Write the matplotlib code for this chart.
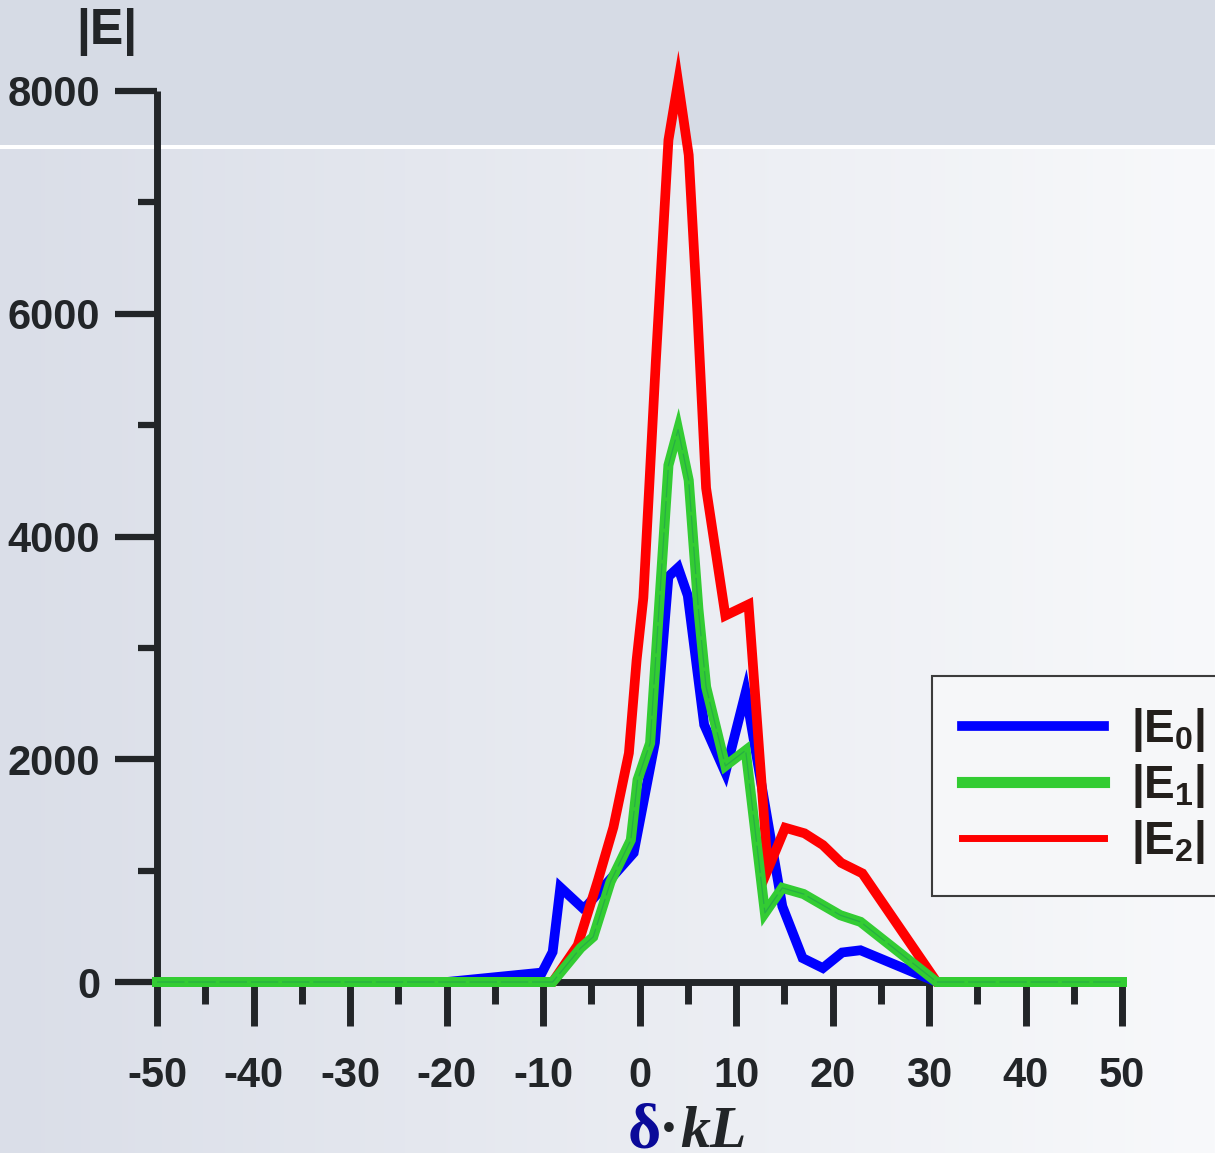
import numpy as np
import matplotlib
matplotlib.use("Agg")
import matplotlib.pyplot as plt

# |E| curves vs detuning delta*kL
x_e0 = [-50, -20, -10.1, -9.0, -8.2, -5.9, -5.4, -0.6, 0.4, 1.6, 3.0, 4.0, 5.0, 6.7, 8.9, 11.0, 14.8, 16.9, 19.0, 21.0, 22.9, 30.8, 50]
e0 = [0, 0, 85, 270, 850, 665, 690, 1160, 1610, 2150, 3640, 3720, 3470, 2310, 1880, 2600, 680, 215, 125, 265, 285, 0, 0]

x_e1 = [-50, -9.0, -6.1, -4.8, -3.0, -0.9, -0.2, 1.1, 3.0, 4.0, 5.1, 6.1, 6.9, 8.9, 11.0, 13.0, 14.8, 17.0, 19.0, 20.8, 22.9, 30.8, 50]
e1 = [0, 0, 305, 405, 900, 1275, 1815, 2145, 4640, 4960, 4505, 3350, 2650, 1940, 2080, 620, 845, 790, 690, 600, 540, 0, 0]

x_e2 = [-50, -9.0, -6.4, -4.3, -2.7, -1.1, -0.3, 0.4, 1.7, 3.0, 4.0, 5.1, 6.0, 6.9, 8.9, 11.3, 13.3, 15.1, 17.1, 19.0, 20.9, 23.1, 30.8, 50]
e2 = [0, 0, 330, 915, 1390, 2055, 2890, 3450, 5585, 7560, 8080, 7425, 6015, 4435, 3290, 3390, 1010, 1385, 1335, 1230, 1070, 975, 0, 0]

labels = [r"|E$_0$|", r"|E$_1$|", r"|E$_2$|"]
x_ticks = list(range(-50, 51, 10))
y_ticks = list(range(0, 8001, 2000))

plt.rcParams["font.family"] = ["Liberation Sans", "DejaVu Sans"]
plt.rcParams["font.weight"] = "bold"
plt.rcParams["mathtext.fontset"] = "custom"
plt.rcParams["mathtext.rm"] = "Liberation Sans:bold"
plt.rcParams["mathtext.it"] = "Liberation Sans:bold"
plt.rcParams["mathtext.bf"] = "Liberation Sans:bold"

W, H = 1215, 1153
fig = plt.figure(figsize=(W / 100, H / 100), dpi=100)

# background: flat band on top, soft left-to-right gradient below
bg = fig.add_axes([0, 0, 1, 1], zorder=-5)
img = np.zeros((H, W, 3))
left = np.array([218, 222, 232]) / 255
right = np.array([248, 249, 251]) / 255
t = np.linspace(0, 1, W)[:, None]
img[:] = (left * (1 - t) + right * t)[None, :, :]
img[:145] = np.array([214, 219, 229]) / 255
img[145:149] = 1.0
bg.imshow(img, aspect="auto", extent=[0, 1, 0, 1], interpolation="bilinear")
bg.axis("off")

ax = fig.add_axes([157 / W, (H - 982) / H, 965 / W, 891 / H])
ax.patch.set_alpha(0)

ax.plot(x_e0, e0, color="#0000ff", lw=7, solid_joinstyle="miter", zorder=3, clip_on=False, label=labels[0])
ax.plot(x_e2, e2, color="#ff0000", lw=7, solid_joinstyle="miter", zorder=4, clip_on=False, label=labels[2])
ax.plot(x_e1, e1, color="#33cc33", lw=7.2, solid_joinstyle="miter", zorder=5, clip_on=False, label=labels[1])
ax.plot(x_e1, e1, color="#1f9a50", lw=0.9, alpha=0.6, ls=(0, (22, 3)), zorder=6, clip_on=False)

ax.set_xlim(-50, 50)
ax.set_ylim(0, 8000)
ax.set_xticks(x_ticks)
ax.set_xticks(range(-45, 50, 10), minor=True)
ax.set_yticks(y_ticks)
ax.set_yticks(range(1000, 8000, 2000), minor=True)
ax.set_xticklabels([str(v) for v in x_ticks])
ax.set_yticklabels([str(v) for v in y_ticks])

dark = "#222528"
for s in ["top", "right"]:
    ax.spines[s].set_visible(False)
for s in ["left", "bottom"]:
    ax.spines[s].set_linewidth(5)
    ax.spines[s].set_color(dark)
    ax.spines[s].set_capstyle("butt")

ax.tick_params(axis="x", which="major", length=32, width=5, color=dark, pad=21, labelsize=30, labelcolor=dark)
ax.tick_params(axis="x", which="minor", length=16, width=5, color=dark)
ax.tick_params(axis="y", which="major", length=30, width=4.5, color=dark, pad=11, labelsize=30, labelcolor=dark)
ax.tick_params(axis="y", which="minor", length=14, width=4.5, color=dark)

# legend in the original order E0, E1, E2
h, l = ax.get_legend_handles_labels()
hd = {lab: hh for hh, lab in zip(h, l)}
leg = ax.legend([hd[v] for v in labels], labels, loc="upper left",
                bbox_to_anchor=(932 / W, 1 - 676 / H), bbox_transform=fig.transFigure,
                borderaxespad=0, fontsize=33, handlelength=3.1, handletextpad=0.6,
                borderpad=0.65, labelspacing=0.175, fancybox=False, framealpha=1,
                facecolor="#f6f7f9", edgecolor="#3c3c3c", labelcolor="#231f1c")
leg.get_frame().set_linewidth(1.5)
for ln, w in zip(leg.get_lines(), [7, 8, 5]):
    ln.set_linewidth(w)
leg.set_zorder(10)

# axis titles
fig.text(107 / W, 1 - 8 / H, "|E|", ha="center", va="top", fontsize=36, color=dark)
base = (H - 1147) / H
fig.text(628 / W, base, "δ", ha="left", va="baseline", fontsize=46, color="#0a0a99",
         family="Liberation Serif", weight="bold")
fig.text(659 / W, base, "·", ha="left", va="baseline", fontsize=43, color=dark,
         family="Liberation Serif", weight="bold")
fig.text(680 / W, base, "kL", ha="left", va="baseline", fontsize=43, color=dark,
         family="Liberation Serif", weight="bold", style="italic")

fig.savefig("out.png", dpi=100)
